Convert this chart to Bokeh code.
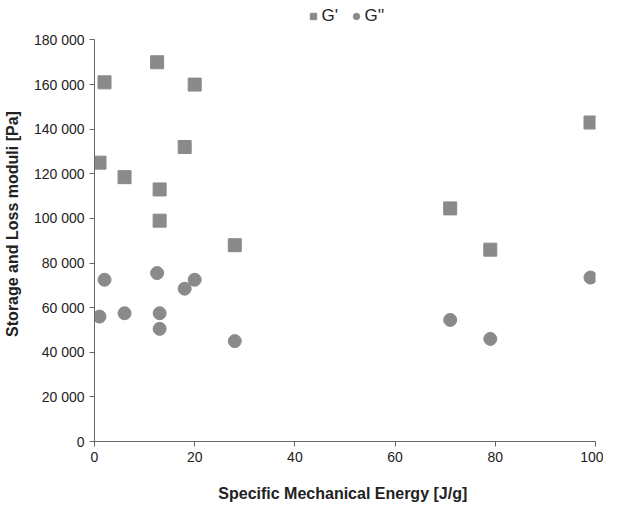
from bokeh.plotting import figure
from bokeh.models import Legend, LegendItem, FixedTicker, CustomJSTickFormatter
from bokeh.embed import file_html
from bokeh.resources import INLINE

sme = [1, 2, 12.5, 13, 13, 6, 18, 20, 28, 71, 79, 99]
g_storage = [125000, 161000, 170000, 113000, 99000, 118500, 132000, 160000, 88000, 104500, 86000, 143000]
sme2 = [1, 2, 6, 12.5, 13, 13, 18, 20, 28, 71, 79, 99]
g_loss = [56000, 72500, 57500, 75500, 57500, 50500, 68500, 72500, 45000, 54500, 46000, 73500]

GREY = "#8a8a8a"
p = figure(width=603, height=504, x_range=(0, 100), y_range=(0, 195000),
           output_backend="svg", toolbar_location=None,
           min_border_left=10, min_border_right=8, min_border_top=6)
p.outline_line_color = None
p.grid.visible = False
p.yaxis.bounds = (0, 180000)

r1 = p.scatter(sme, g_storage, marker="square", size=13, color=GREY)
r2 = p.scatter(sme2, g_loss, marker="circle", size=13, color=GREY)

leg = Legend(items=[LegendItem(label="G'", renderers=[r1]),
                    LegendItem(label="G''", renderers=[r2])],
             orientation="horizontal", location="top_center", border_line_color=None,
             background_fill_alpha=0, label_text_color="#222222",
             label_text_font="Liberation Sans", label_text_font_size="17px",
             glyph_width=16, glyph_height=16, spacing=6, label_standoff=1,
             margin=0, padding=2)
p.add_layout(leg)

p.xaxis.ticker = FixedTicker(ticks=[0, 20, 40, 60, 80, 100])
p.yaxis.ticker = FixedTicker(ticks=list(range(0, 180001, 20000)))
p.yaxis.formatter = CustomJSTickFormatter(code="""
return tick.toString().replace(/\\B(?=(\\d{3})+(?!\\d))/g, ' ');
""")
p.xaxis.axis_label = "Specific Mechanical Energy  [J/g]"
p.yaxis.axis_label = "Storage and Loss moduli [Pa]"
for ax in (p.xaxis, p.yaxis):
    ax.axis_label_text_font = "Liberation Sans"
    ax.axis_label_text_font_style = "bold"
    ax.axis_label_text_font_size = "16px"
    ax.axis_label_text_color = "#222222"
    ax.major_label_text_font = "Liberation Sans"
    ax.major_label_text_font_size = "14px"
    ax.major_label_text_color = "#222222"
    ax.minor_tick_line_color = None
    ax.axis_line_color = "#666666"
    ax.major_tick_line_color = "#666666"
    ax.major_tick_in = 0
    ax.major_tick_out = 5
p.xaxis.axis_label_standoff = 20
p.yaxis.axis_label_standoff = 10

open("out.html", "w").write(file_html(p, INLINE))
